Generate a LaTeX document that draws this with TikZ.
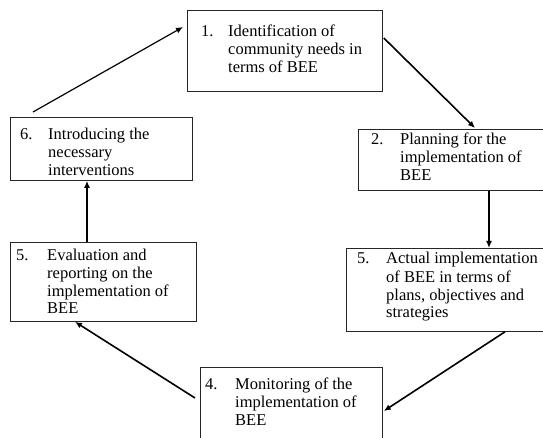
\documentclass[tikz,border=0pt]{standalone}
\usepackage{fontspec}
\setmainfont{Liberation Serif}
\usetikzlibrary{arrows.meta}
\tikzset{
  box/.style={draw=black!85, line width=0.8pt, inner sep=0pt, anchor=north west},
  txt/.style={anchor=base west, inner sep=0pt, font=\fontsize{16.5}{18}\selectfont},
  arr/.style={line width=1.6pt, -{Latex[length=7pt,width=6pt]}},
  arrthin/.style={line width=1.2pt, -{Latex[length=7pt,width=6pt]}}
}
\newcommand{\lines}[1]{\begin{tabular}[t]{@{}l@{}}#1\end{tabular}}
\begin{document}
\begin{tikzpicture}[x=1pt,y=-1pt]
\useasboundingbox (0,0) rectangle (543,438);
% boxes
\node[box, minimum width=195pt, minimum height=81pt] (b1) at (187,10) {};
\node[box, minimum width=190pt, minimum height=61pt] (b2) at (358,129) {};
\node[box, minimum width=202pt, minimum height=83pt] (b3) at (346,248) {};
\node[box, minimum width=182pt, minimum height=80pt] (b4) at (200,367) {};
\node[box, minimum width=186pt, minimum height=79pt] (b5) at (10,242) {};
\node[box, minimum width=182pt, minimum height=63pt] (b6) at (10,117) {};
% texts
\node[txt] (n1) at (201,37) {1.};
\node[txt] (t1) at (228,37) {\lines{Identification of\\community needs in\\terms of BEE}};
\node[txt] (n2) at (371,145) {2.};
\node[txt] (t2) at (400,145) {\lines{Planning for the\\implementation of\\BEE}};
\node[txt] (n3) at (357,264) {5.};
\node[txt] (t3) at (386,264) {\lines{Actual implementation\\of BEE in terms of\\plans, objectives and\\strategies}};
\node[txt] (n4) at (205,389) {4.};
\node[txt] (t4) at (235,389) {\lines{Monitoring of the\\implementation of\\BEE}};
\node[txt] (n5) at (16,260) {5.};
\node[txt] (t5) at (47,260) {\lines{Evaluation and\\reporting on the\\implementation of\\BEE}};
\node[txt] (n6) at (20,140) {6.};
\node[txt] (t6) at (48,140) {\lines{Introducing the\\necessary\\interventions}};
% connectors
\draw[arrthin] ([xshift=23pt,yshift=5pt]b6.north west) -- ([xshift=-4pt,yshift=-17pt]b1.north west);
\draw[arr] ([xshift=1pt,yshift=-28pt]b1.north east) -- ([xshift=117pt,yshift=1pt]b2.north west);
\draw[arr] ([xshift=131pt]b2.south west) -- ([xshift=143pt]b3.north west);
\draw[arr] ([xshift=159pt]b3.south west) -- ([xshift=1pt,yshift=-44pt]b4.north east);
\draw[arr] ([xshift=-5pt,yshift=-31pt]b4.north west) -- ([xshift=65pt]b5.south west);
\draw[arr] ([xshift=77pt]b5.north west) -- ([xshift=77pt]b6.south west);
\end{tikzpicture}
\end{document}
